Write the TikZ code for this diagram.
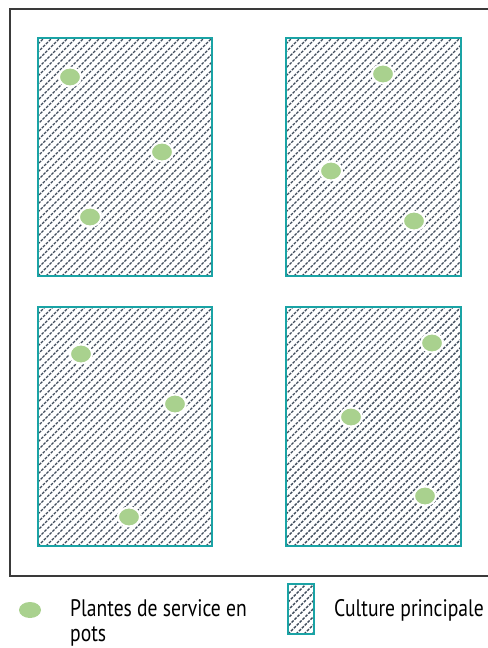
\documentclass[tikz,border=0pt]{standalone}
\usepackage{fontspec}
\setmainfont[FakeStretch=0.82]{PT Sans}
\usetikzlibrary{shapes.geometric,calc}
\definecolor{parcTeal}{RGB}{26,163,165}
\definecolor{parcHatch}{RGB}{62,75,91}
\definecolor{planteGreen}{RGB}{169,209,142}
\definecolor{frameGray}{RGB}{58,58,58}

\begin{document}
\begin{tikzpicture}[x=1bp, y=-1bp,
    hatch/.style={parcHatch, line width=1.4bp, dash pattern=on 2.8bp off 1.3bp},
    parcelle/.style={rectangle, draw=parcTeal, line width=2.8bp, inner sep=0pt,
                     path picture={
                       \foreach \i in {-320,-312,...,200}
                         \draw[hatch] ($(path picture bounding box.south west)+(\i,0)$) -- ++(330,-330);
                     }},
    plante/.style={ellipse, fill=planteGreen, draw=white, line width=2bp,
                   minimum width=22bp, minimum height=19bp, inner sep=0pt},
    legende/.style={anchor=north west, font=\fontsize{24}{25.5}\selectfont, align=left,
                    inner sep=0pt}
  ]
  \useasboundingbox (0,0) rectangle (488,648);
  \draw[frameGray, line width=2bp] (10,9) rectangle (495,576);

  % parcelles
  \node[parcelle, minimum width=174bp, minimum height=238bp] (p1) at (125,157) {};
  \node[parcelle, minimum width=175bp, minimum height=238bp] (p2) at (373.5,157) {};
  \node[parcelle, minimum width=174bp, minimum height=239bp] (p3) at (125,426.5) {};
  \node[parcelle, minimum width=175bp, minimum height=239bp] (p4) at (373.5,426.5) {};

  % plantes de service
  \node[plante] (a1) at (70,77) {};
  \node[plante] (a2) at (162,152) {};
  \node[plante] (a3) at (90,217) {};
  \node[plante] (b1) at (383,74) {};
  \node[plante] (b2) at (331,171) {};
  \node[plante] (b3) at (414,221) {};
  \node[plante] (c1) at (81,354) {};
  \node[plante] (c2) at (175,404) {};
  \node[plante] (c3) at (129,517) {};
  \node[plante] (d1) at (432,343) {};
  \node[plante] (d2) at (351,417) {};
  \node[plante] (d3) at (425,496) {};

  % legende
  \node[plante, draw=none, minimum width=22bp, minimum height=16bp] (legPlante) at (30,610) {};
  \node[legende] (txtPlante) at (70,599) {Plantes de service en\\pots};
  \node[parcelle, minimum width=26bp, minimum height=50bp, line width=2bp] (legParc) at (301,609) {};
  \node[legende] (txtParc) at (334,599) {Culture principale};
\end{tikzpicture}
\end{document}
